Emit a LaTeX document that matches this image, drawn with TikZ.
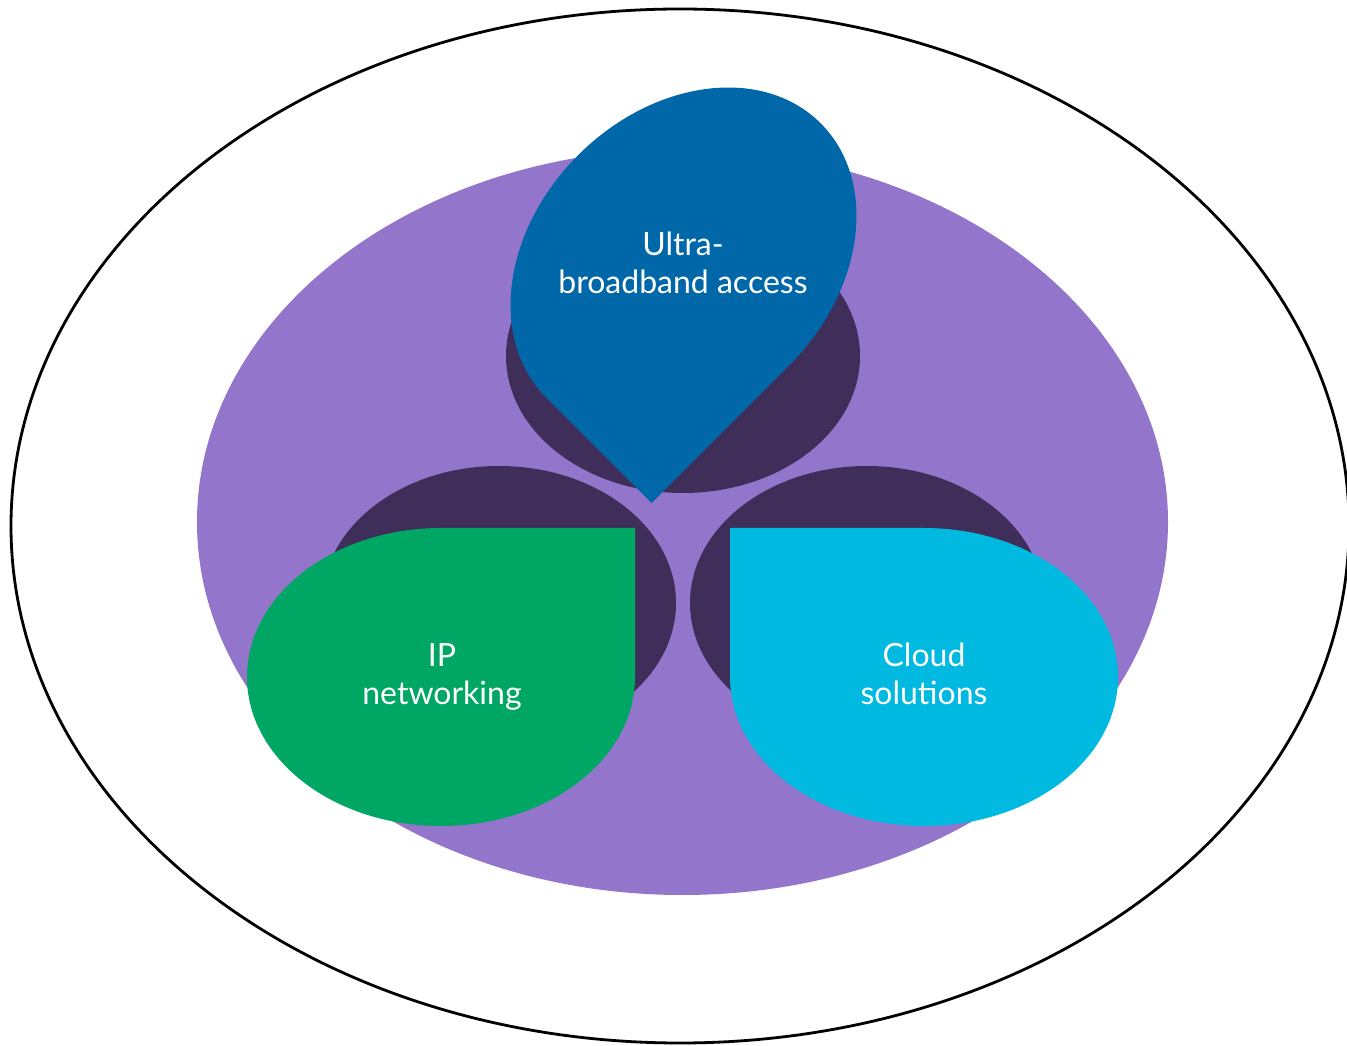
\documentclass[tikz,border=0pt]{standalone}
\usepackage{fontspec}
\setmainfont{Lato}
\definecolor{purp}{HTML}{9475CC}
\definecolor{darkp}{HTML}{3F2D5A}
\definecolor{tblue}{HTML}{0067A8}
\definecolor{tgreen}{HTML}{00A664}
\definecolor{tcyan}{HTML}{00B9E0}
\tikzset{
  lbl/.style={text=white, align=center, inner sep=0pt, font=\fontsize{32}{38}\selectfont},
  tear/.style={fill=#1, draw=none}
}
\newcommand{\teardroppath}{(0,149) -- (194,149) -- (194,0) arc[start angle=0, end angle=-270, x radius=194, y radius=149] -- cycle}
\begin{document}
\begin{tikzpicture}[x=1pt,y=1pt]
\useasboundingbox (0,0) rectangle (1347,1045);
\clip (0,0) rectangle (1347,1045);
\fill[white] (0,0) rectangle (1347,1045);
% outer ellipse
\draw[line width=2.8pt] (680,519) ellipse[x radius=669, y radius=517];
% purple ellipse
\fill[purp] (682.5,523) ellipse[x radius=485.5, y radius=373];
% dark ellipses
\fill[darkp] (683,689) ellipse[x radius=177, y radius=137];
\fill[darkp] (499,442) ellipse[x radius=177, y radius=137];
\fill[darkp] (867,442) ellipse[x radius=177, y radius=137];
% teardrops
\begin{scope}[shift={(683.5,784.5)}, rotate=-135]
  \path[tear=tblue] \teardroppath;
\end{scope}
\begin{scope}[shift={(441,368)}]
  \path[tear=tgreen] \teardroppath;
\end{scope}
\begin{scope}[shift={(924,368)}, xscale=-1]
  \path[tear=tcyan] \teardroppath;
\end{scope}
% labels
\node[lbl] (uba) at (683,782) {Ultra-\\broadband access};
\node[lbl] (ipn) at (442,368.5) {IP\\networking};
\node[lbl] (cls) at (924,371.5) {Cloud\\solutions};
\end{tikzpicture}
\end{document}
